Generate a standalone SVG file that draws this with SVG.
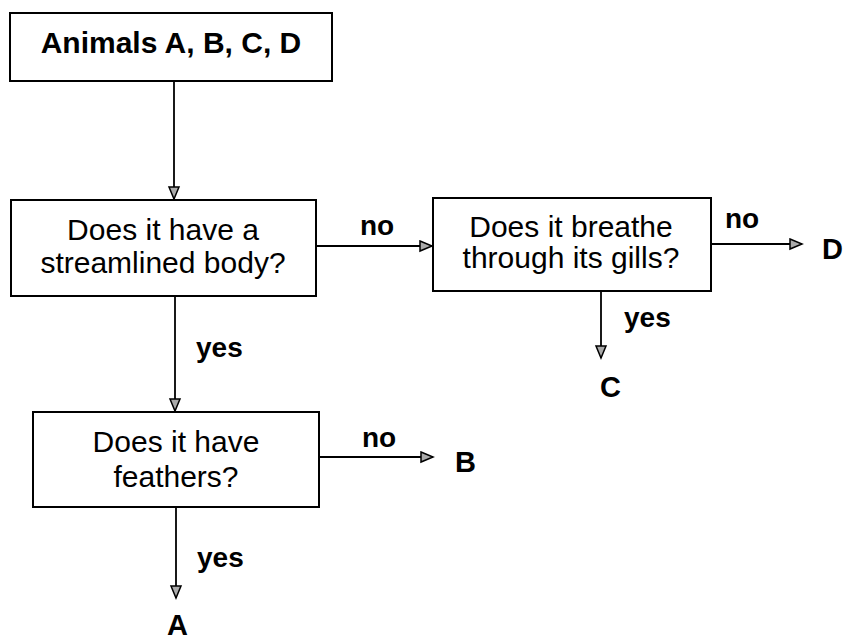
<svg xmlns="http://www.w3.org/2000/svg" width="843" height="641" viewBox="0 0 843 641">
<style>
.box{fill:#fff;stroke:#000;stroke-width:2}
.t{font-family:"Liberation Sans",Arial,sans-serif;font-size:30px;fill:#000;text-anchor:middle}
.b{font-weight:bold}
.lbl{font-family:"Liberation Sans",Arial,sans-serif;font-size:28px;font-weight:bold;fill:#000}
.ltr{font-size:29px}
.c{fill:none;stroke:#000;stroke-width:1.8;marker-end:url(#arr)}
</style>
<defs>
<marker id="arr" viewBox="0 0 12 10" refX="12" refY="5" markerWidth="12" markerHeight="10" orient="auto" markerUnits="userSpaceOnUse" overflow="visible">
<path d="M0,0 L12,5 L0,10 Z" fill="#aaa" stroke="#000" stroke-width="1.5"/>
</marker>
</defs>
<rect width="843" height="641" fill="#fff"/>
<g id="connectors">
<line class="c" x1="174" y1="81" x2="174" y2="199"/>
<line class="c" x1="316" y1="246" x2="432" y2="246"/>
<line class="c" x1="711" y1="244" x2="802" y2="244"/>
<line class="c" x1="601" y1="291" x2="601" y2="358"/>
<line class="c" x1="175" y1="296" x2="175" y2="411"/>
<line class="c" x1="319" y1="457" x2="433" y2="457"/>
<line class="c" x1="176" y1="507" x2="176" y2="598"/>
<text class="lbl" x="360" y="235">no</text>
<text class="lbl" x="725" y="228">no</text>
<text class="lbl" x="624" y="327">yes</text>
<text class="lbl" x="196" y="357">yes</text>
<text class="lbl" x="362" y="447">no</text>
<text class="lbl" x="197" y="567">yes</text>
</g>
<g id="start">
<rect class="box" x="10" y="13" width="322" height="68"/>
<text class="t b" x="171" y="53">Animals A, B, C, D</text>
</g>
<g id="q-streamlined">
<rect class="box" x="11" y="200" width="305" height="96"/>
<text class="t" x="163" y="240">Does it have a</text>
<text class="t" x="163" y="273">streamlined body?</text>
</g>
<g id="q-gills">
<rect class="box" x="433" y="198" width="278" height="93"/>
<text class="t" x="571" y="237">Does it breathe</text>
<text class="t" x="571" y="268">through its gills?</text>
</g>
<g id="q-feathers">
<rect class="box" x="33" y="412" width="286" height="95"/>
<text class="t" x="176" y="452">Does it have</text>
<text class="t" x="176" y="487">feathers?</text>
</g>
<g id="D"><text class="lbl ltr" x="822" y="259">D</text></g>
<g id="C"><text class="lbl ltr" x="600" y="397">C</text></g>
<g id="B"><text class="lbl ltr" x="455" y="472">B</text></g>
<g id="A"><text class="lbl ltr" x="167" y="635">A</text></g>
</svg>
